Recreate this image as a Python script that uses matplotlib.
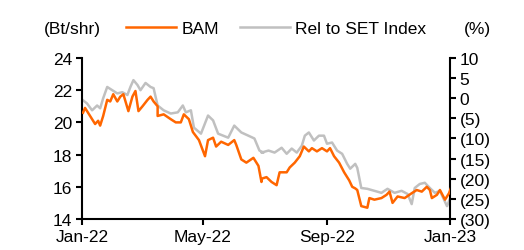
import datetime as dt

import matplotlib.pyplot as plt
from matplotlib.ticker import FuncFormatter
import matplotlib.dates as mdates

plt.rcParams['font.family'] = ['Liberation Sans', 'DejaVu Sans']

# day offsets from 1 Jan 2022 and readings
bam_days = [1, 3, 8, 13, 16, 18, 21, 25, 28, 31, 35, 38, 41, 46, 50, 53, 56, 60, 65,
            68, 71, 75, 75, 81, 88, 93, 98, 101, 106, 110, 116, 122, 125, 130, 133,
            138, 145, 151, 153, 158, 163, 170, 175, 178, 178, 183, 188, 193, 196,
            203, 206, 211, 216, 220, 225, 228, 233, 238, 243, 246, 250, 255, 260,
            265, 268, 271, 273, 277, 283, 285, 290, 297, 302, 305, 308, 313, 320,
            327, 332, 337, 342, 345, 347, 352, 355, 360, 364, 367]
bam_price = [20.6, 20.9, 20.4, 19.9, 20.1, 19.8, 20.4, 21.4, 21.3, 21.75, 21.3, 21.6,
             21.75, 20.7, 21.6, 21.95, 20.7, 21.0, 21.4, 21.6, 21.3, 21.0, 20.4, 20.5,
             20.2, 20.0, 20.0, 20.5, 20.2, 19.4, 18.9, 17.9, 18.9, 19.05, 18.5, 18.8,
             18.6, 18.9, 18.6, 17.7, 17.5, 17.8, 17.3, 16.3, 16.5, 16.6, 16.3, 16.1,
             16.9, 16.9, 17.2, 17.5, 17.9, 18.5, 18.2, 18.4, 18.2, 18.4, 18.2, 18.4,
             17.9, 17.5, 16.9, 16.4, 16.0, 15.9, 15.8, 14.8, 14.7, 15.3, 15.2, 15.3,
             15.5, 15.7, 15.0, 15.4, 15.3, 15.6, 15.8, 15.7, 16.0, 15.8, 15.3, 15.5,
             15.8, 15.2, 15.6, 16.1]

rel_days = [1, 5, 10, 15, 18, 21, 25, 30, 35, 40, 45, 48, 51, 55, 58, 63, 68, 71,
            75, 81, 88, 95, 100, 103, 108, 111, 118, 125, 130, 135, 140, 145, 151,
            158, 165, 171, 176, 180, 178, 185, 191, 198, 203, 208, 213, 218, 221,
            225, 230, 235, 240, 243, 248, 253, 258, 263, 266, 271, 273, 277, 283,
            290, 297, 303, 310, 317, 323, 327, 330, 335, 340, 345, 350, 355, 362,
            365, 367]
rel_pct = [-0.5, -1.3, -3.0, -1.8, -2.5, 0.0, 2.8, 2.0, 1.2, 1.5, 0.8, 2.8, 4.5, 3.3,
           2.0, 3.8, 2.8, 2.5, -1.8, -3.0, -3.8, -3.5, -1.8, -3.5, -3.0, -7.3, -8.8,
           -4.3, -5.5, -8.8, -9.3, -9.8, -6.8, -8.5, -9.3, -10.0, -13.0, -13.5,
           -13.5, -13.0, -13.5, -12.3, -13.8, -12.5, -13.5, -11.8, -9.3, -8.5, -10.5,
           -9.3, -9.3, -11.3, -11.0, -13.0, -13.8, -16.3, -17.5, -16.3, -17.3, -22.3,
           -22.5, -23.0, -23.5, -22.5, -23.5, -23.0, -23.8, -26.3, -22.3, -21.3,
           -21.0, -22.3, -23.5, -23.0, -26.8, -25.0, -24.3]

start = dt.date(2022, 1, 1)
bam_x = [start + dt.timedelta(days=d) for d in bam_days]
rel_x = [start + dt.timedelta(days=d) for d in rel_days]

fs = 12.5
fig = plt.figure(figsize=(5.24, 2.51), dpi=100)
ax = fig.add_axes([0.1565, 0.1235, 0.7023, 0.6415])
ax2 = ax.twinx()

l1, = ax.plot(bam_x, bam_price, color='#FF6600', lw=1.8, zorder=3)
l2, = ax2.plot(rel_x, rel_pct, color='#C0C0C0', lw=1.8, zorder=2)
ax.set_zorder(ax2.get_zorder() + 1)
ax.patch.set_visible(False)

ax.set_ylim(14, 24)
ax.set_yticks(range(14, 25, 2))
ax2.set_ylim(-30, 10)
ax2.set_yticks(range(-30, 11, 5))
ax2.yaxis.set_major_formatter(FuncFormatter(
    lambda v, p: f'({abs(int(v))})' if v < 0 else f'{int(v)}'))

ax.set_xlim(dt.date(2022, 1, 1), dt.date(2023, 1, 1))
ax.set_xticks([dt.date(2022, 1, 1), dt.date(2022, 5, 1), dt.date(2022, 9, 1),
               dt.date(2023, 1, 1)])
ax.xaxis.set_major_formatter(mdates.DateFormatter('%b-%y'))

for a in (ax, ax2):
    a.spines['top'].set_visible(False)
    for s in a.spines.values():
        s.set_linewidth(1.5)
    a.tick_params(direction='out', length=4, width=1.5, labelsize=fs, pad=3)
ax.spines['right'].set_visible(False)
ax2.spines['left'].set_visible(False)
ax2.spines['bottom'].set_visible(False)

fig.text(0.139, 0.884, '(Bt/shr)', fontsize=fs, ha='center', va='center')
fig.text(0.912, 0.884, '(%)', fontsize=fs, ha='center', va='center')
ax.legend([l1, l2], ['BAM', 'Rel to SET Index'], ncol=2, frameon=False,
          fontsize=fs, handlelength=2.9, columnspacing=1.2, handletextpad=0.3,
          loc='center', bbox_to_anchor=(0.527, 1.186))

fig.savefig('out.png', dpi=100)
